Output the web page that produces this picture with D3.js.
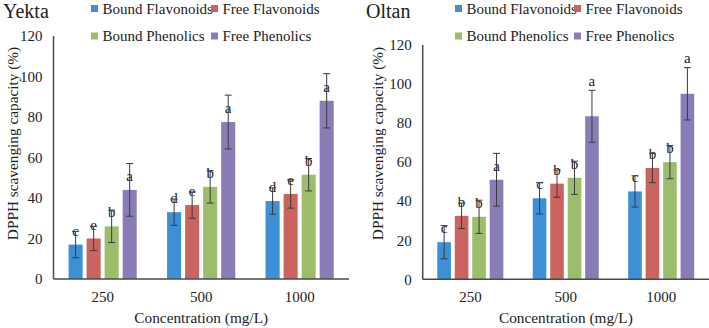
<!DOCTYPE html>
<html>
<head>
<meta charset="utf-8">
<script src="https://cdn.jsdelivr.net/npm/d3@7"></script>
<style>
    body { margin: 0; background: #fff; }
    svg { display: block; }
</style>
</head>
<body>
<svg id="chart"></svg>
<script>

/*
*   Data
*/

const categories = ['250', '500', '1000']
const series = ['Bound Flavonoids', 'Free Flavonoids', 'Bound Phenolics', 'Free Phenolics']
const yTicks = [0, 20, 40, 60, 80, 100, 120]

// one row per series, one value per concentration
const yektaValues = [[17, 33, 38.5], [20, 36.5, 42], [26, 45.5, 51.5], [44, 77.5, 88]]
const yektaErrors = [[6.5, 6.5, 6.5], [6, 6.5, 7], [8, 8, 8], [13, 13.3, 13.4]]
const yektaLetters = [['c', 'd', 'd'], ['e', 'e', 'e'], ['b', 'b', 'b'], ['a', 'a', 'a']]

const oltanValues = [[19, 41.5, 45], [32.5, 49, 57], [32, 52, 60], [51, 83.5, 95]]
const oltanErrors = [[8.5, 8, 8], [6.5, 7, 7.5], [8.5, 8.5, 8.5], [13.5, 13.3, 13.4]]
const oltanLetters = [['c', 'c', 'c'], ['b', 'b', 'b'], ['b', 'b', 'b'], ['a', 'a', 'a']]
// letters that sit over the error bar instead of over the bar
const oltanLettersOverError = [[0, 0, 0], [0, 0, 0], [0, 0, 0], [0, 1, 1]]


/*
*   Constants
*/

const WIDTH = 709
const HEIGHT = 328
const FONT = '"Liberation Serif", "Times New Roman", Times, serif'
const COLORS = ['#3d90d5', '#c9645f', '#9cbd6c', '#8a7db7']
const AXIS_COLOR = '#4a4a4a'
const ERROR_COLOR = '#3a3a3a'
const TEXT_COLOR = '#222'

const PANELS = [
    { title: 'Yekta', values: yektaValues, errors: yektaErrors, letters: yektaLetters,
      overError: null, left: 53.5, right: 349, top: 36, bottom: 279,
      titleX: 3, legendX: [91, 211], yTitleX: 13 },
    { title: 'Oltan', values: oltanValues, errors: oltanErrors, letters: oltanLetters,
      overError: oltanLettersOverError, left: 422.7, right: 709, top: 45, bottom: 279.3,
      titleX: 366, legendX: [455, 574], yTitleX: 378 },
]

const svg = d3.select('#chart')
.attr('width', WIDTH)
.attr('height', HEIGHT)
.attr('font-family', FONT)
.style('font-family', FONT)

svg.append('rect')
.attr('width', WIDTH)
.attr('height', HEIGHT)
.attr('fill', '#fff')


/*
*   Draws one panel.
*/

const drawPanel = p => {

    const g = svg.append('g')
    .attr('fill', TEXT_COLOR)

    const y = d3.scaleLinear().domain([0, 120]).range([p.bottom, p.top])
    const x0 = d3.scaleBand().domain(categories).range([p.left, p.right])
    const bw = x0.bandwidth()
    const x1 = d3.scaleBand().domain(series)
    .range([bw * 0.153, bw * 0.845])
    .paddingInner(0.22)

    // tick labels
    g.selectAll('.ytick')
    .data(yTicks)
    .enter()
    .append('text')
    .attr('x', p.left - 11)
    .attr('y', d => y(d))
    .attr('dy', '0.35em')
    .attr('text-anchor', 'end')
    .attr('font-size', 15)
    .text(d => d)

    // bars
    const cells = []
    series.forEach((s, si) => {
        categories.forEach((c, ci) => {
            cells.push({
                s, c, si,
                v: p.values[si][ci],
                e: p.errors[si][ci],
                letter: p.letters[si][ci],
                overError: p.overError ? p.overError[si][ci] : 0,
            })
        })
    })

    g.selectAll('.bar')
    .data(cells)
    .enter()
    .append('rect')
    .attr('x', d => x0(d.c) + x1(d.s))
    .attr('y', d => y(d.v))
    .attr('width', x1.bandwidth())
    .attr('height', d => y(0) - y(d.v))
    .attr('fill', d => COLORS[d.si])

    // significance letters
    g.selectAll('.letter')
    .data(cells)
    .enter()
    .append('text')
    .attr('x', d => x0(d.c) + x1(d.s) + x1.bandwidth() / 2)
    .attr('y', d => d.overError ? y(d.v + d.e) - 4.5 : y(d.v) - 9)
    .attr('text-anchor', 'middle')
    .attr('font-size', 15)
    .text(d => d.letter)

    // error bars
    const cx = d => x0(d.c) + x1(d.s) + x1.bandwidth() / 2
    const err = g.selectAll('.err')
    .data(cells)
    .enter()
    .append('g')
    .attr('stroke', ERROR_COLOR)
    .attr('stroke-width', 1)

    err.append('line')
    .attr('x1', cx).attr('x2', cx)
    .attr('y1', d => y(d.v - d.e))
    .attr('y2', d => y(d.v + d.e))

    err.append('line')
    .attr('x1', d => cx(d) - 3.5).attr('x2', d => cx(d) + 3.5)
    .attr('y1', d => y(d.v + d.e)).attr('y2', d => y(d.v + d.e))

    err.append('line')
    .attr('x1', d => cx(d) - 3.5).attr('x2', d => cx(d) + 3.5)
    .attr('y1', d => y(d.v - d.e)).attr('y2', d => y(d.v - d.e))

    // axis lines
    g.append('line')
    .attr('x1', p.left).attr('x2', p.left)
    .attr('y1', p.top).attr('y2', p.bottom)
    .attr('stroke', AXIS_COLOR)
    .attr('stroke-width', 1.5)

    g.append('line')
    .attr('x1', p.left).attr('x2', p.right)
    .attr('y1', p.bottom).attr('y2', p.bottom)
    .attr('stroke', AXIS_COLOR)
    .attr('stroke-width', 1.5)

    // category labels
    g.selectAll('.xtick')
    .data(categories)
    .enter()
    .append('text')
    .attr('x', d => x0(d) + bw / 2)
    .attr('y', 301.5)
    .attr('text-anchor', 'middle')
    .attr('font-size', 15)
    .text(d => d)

    // axis titles
    g.append('text')
    .attr('x', (p.left + p.right) / 2)
    .attr('y', 323)
    .attr('text-anchor', 'middle')
    .attr('font-size', 15.3)
    .text('Concentration (mg/L)')

    g.append('text')
    .attr('transform', `translate(${p.yTitleX + 5},143.5) rotate(-90)`)
    .attr('text-anchor', 'middle')
    .attr('font-size', 15.3)
    .text('DPPH scavenging capacity (%)')

    // panel title
    g.append('text')
    .attr('x', p.titleX)
    .attr('y', 18)
    .attr('font-size', 20)
    .text(p.title)

    // legend, two rows of two
    series.forEach((s, i) => {
        const lx = p.legendX[i % 2]
        const ly = i < 2 ? 8.5 : 36
        g.append('rect')
        .attr('x', lx).attr('y', ly - 3.5)
        .attr('width', 7).attr('height', 7)
        .attr('fill', COLORS[i])
        g.append('text')
        .attr('x', lx + 11.5)
        .attr('y', ly)
        .attr('dy', '0.35em')
        .attr('font-size', 15)
        .text(s)
    })
}

PANELS.forEach(drawPanel)

</script>
</body>
</html>
